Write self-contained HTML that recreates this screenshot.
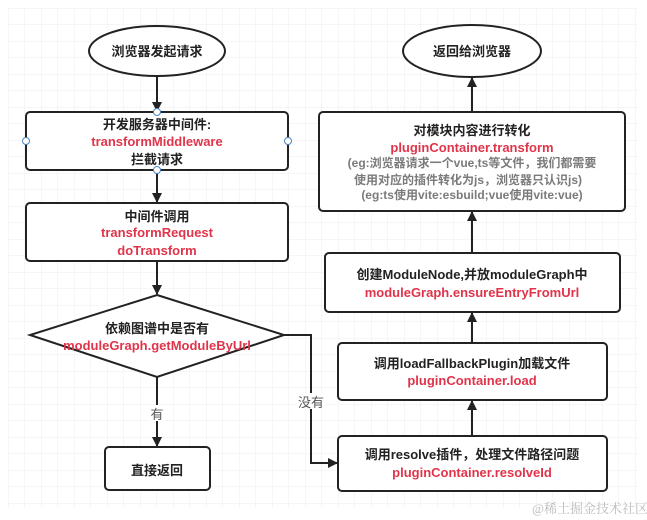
<!DOCTYPE html>
<html><head><meta charset="utf-8"><style>
html,body{margin:0;padding:0;background:#fff;}
svg{display:block;}
text{font-family:"Liberation Sans","Noto Sans CJK SC",sans-serif;font-size:13px;text-anchor:middle;font-weight:bold;}
.b{fill:#222;}
.r{fill:#e0344a;}
.g{fill:#7a7a7a;font-size:12px;}
</style></head><body>
<svg width="647" height="520" viewBox="0 0 647 520" xmlns="http://www.w3.org/2000/svg">
<defs>
<pattern id="grid" x="8" y="8" width="16.5" height="16.5" patternUnits="userSpaceOnUse">
<path d="M0 0H16.5M0 0V16.5" stroke="#ececec" stroke-width="1" fill="none"/>
</pattern>
<marker id="ar" markerWidth="10" markerHeight="10" refX="9" refY="5" orient="auto" markerUnits="userSpaceOnUse">
<path d="M0 0L10 5L0 10Z" fill="#222"/>
</marker>
</defs>
<rect x="8" y="8" width="630" height="500" fill="url(#grid)"/>
<g stroke="#222" stroke-width="2" fill="#fff">
<ellipse cx="157" cy="51" rx="68" ry="25"/>
<ellipse cx="472" cy="51" rx="69" ry="26"/>
<rect x="26" y="112" width="262" height="58" rx="4"/>
<rect x="26" y="203" width="262" height="58" rx="4"/>
<polygon points="157,295 284,335 157,377 30,335"/>
<rect x="105" y="447" width="105" height="43" rx="4"/>
<rect x="338" y="436" width="269" height="55" rx="4"/>
<rect x="338" y="343" width="269" height="57" rx="4"/>
<rect x="325" y="253" width="295" height="59" rx="4"/>
<rect x="319" y="112" width="306" height="99" rx="4"/>
</g>
<g stroke="#222" stroke-width="2" fill="none" marker-end="url(#ar)">
<line x1="157" y1="77" x2="157" y2="111"/>
<line x1="157" y1="170" x2="157" y2="202"/>
<line x1="157" y1="261" x2="157" y2="294"/>
<line x1="157" y1="377" x2="157" y2="446"/>
<polyline points="284,335 311,335 311,463 337,463"/>
<line x1="472" y1="436" x2="472" y2="401"/>
<line x1="472" y1="343" x2="472" y2="313"/>
<line x1="472" y1="253" x2="472" y2="212"/>
<line x1="472" y1="112" x2="472" y2="78"/>
</g>
<g fill="#fff" stroke="#4a86c8" stroke-width="1">
<circle cx="157" cy="112" r="3.5"/><circle cx="157" cy="170" r="3.5"/>
<circle cx="26" cy="141" r="3.5"/><circle cx="288" cy="141" r="3.5"/>
</g>
<rect x="150" y="405" width="14" height="16" fill="#fff"/>
<rect x="297" y="393" width="28" height="16" fill="#fff"/>
<text class="b" x="157" y="56">浏览器发起请求</text>
<text class="b" x="472" y="56">返回给浏览器</text>
<text class="b" x="157" y="129">开发服务器中间件:</text>
<text class="r" x="157" y="146">transformMiddleware</text>
<text class="b" x="157" y="164">拦截请求</text>
<text class="b" x="157" y="221">中间件调用</text>
<text class="r" x="157" y="237">transformRequest</text>
<text class="r" x="157" y="255">doTransform</text>
<text class="b" x="157" y="333">依赖图谱中是否有</text>
<text class="r" x="157" y="350">moduleGraph.getModuleByUrl</text>
<text class="b" x="157" y="475">直接返回</text>
<text x="157" y="419" style="font-weight:normal;fill:#555">有</text>
<text x="311" y="407" style="font-weight:normal;fill:#555">没有</text>
<text class="b" x="472" y="135">对模块内容进行转化</text>
<text class="r" x="472" y="152">pluginContainer.transform</text>
<text class="g" x="472" y="167">(eg:浏览器请求一个vue,ts等文件，我们都需要</text>
<text class="g" x="468" y="184">使用对应的插件转化为js，浏览器只认识js)</text>
<text class="g" x="472" y="199">(eg:ts使用vite:esbuild;vue使用vite:vue)</text>
<text class="b" x="472" y="279">创建ModuleNode,并放moduleGraph中</text>
<text class="r" x="472" y="297">moduleGraph.ensureEntryFromUrl</text>
<text class="b" x="472" y="368">调用loadFallbackPlugin加载文件</text>
<text class="r" x="472" y="385">pluginContainer.load</text>
<text class="b" x="472" y="459">调用resolve插件，处理文件路径问题</text>
<text class="r" x="472" y="477">pluginContainer.resolveId</text>
<text x="590" y="513" style="font-weight:normal;fill:#bbb;font-size:13px;font-family:'Liberation Serif','Noto Serif CJK SC',serif">@稀土掘金技术社区</text>
</svg>
</body></html>
